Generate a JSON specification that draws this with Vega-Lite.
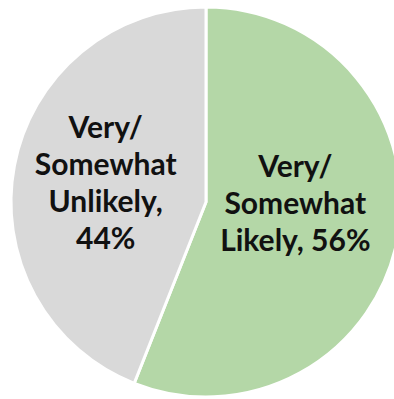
{
  "$schema": "https://vega.github.io/schema/vega-lite/v6.json",
  "width": 376,
  "height": 394,
  "autosize": {"type": "none"},
  "padding": {"left": 18, "top": 5, "right": 0, "bottom": 0},
  "background": "white",
  "view": {"stroke": null},
  "data": {
    "values": [
      {"response": "Very/Somewhat Likely", "pct": 56, "rank": 1, "label": "Very/\nSomewhat\nLikely, 56%"},
      {"response": "Very/Somewhat Unlikely", "pct": 44, "rank": 2, "label": "Very/\nSomewhat\nUnlikely,\n44%"}
    ]
  },
  "encoding": {
    "theta": {"field": "pct", "type": "quantitative", "stack": true},
    "order": {"field": "rank", "type": "quantitative"}
  },
  "layer": [
    {
      "mark": {"type": "arc", "outerRadius": 195, "stroke": "white", "strokeWidth": 3},
      "encoding": {
        "color": {
          "field": "response",
          "type": "nominal",
          "scale": {"domain": ["Very/Somewhat Likely", "Very/Somewhat Unlikely"], "range": ["#b4d7a7", "#d9d9d9"]},
          "legend": null
        }
      }
    },
    {
      "mark": {"type": "text", "radius": 95, "dx": -4, "dy": -52, "lineBreak": "\n", "lineHeight": 37, "font": "Lato", "fontWeight": "bold", "fontSize": 30, "color": "#111111", "align": "center", "baseline": "middle"},
      "encoding": {"text": {"condition": {"test": "datum.rank == 1", "field": "label"}, "value": ""}}
    },
    {
      "mark": {"type": "text", "radius": 95, "dx": -7, "dy": -55, "lineBreak": "\n", "lineHeight": 37, "font": "Lato", "fontWeight": "bold", "fontSize": 30, "color": "#111111", "align": "center", "baseline": "middle"},
      "encoding": {"text": {"condition": {"test": "datum.rank == 2", "field": "label"}, "value": ""}}
    }
  ]
}
